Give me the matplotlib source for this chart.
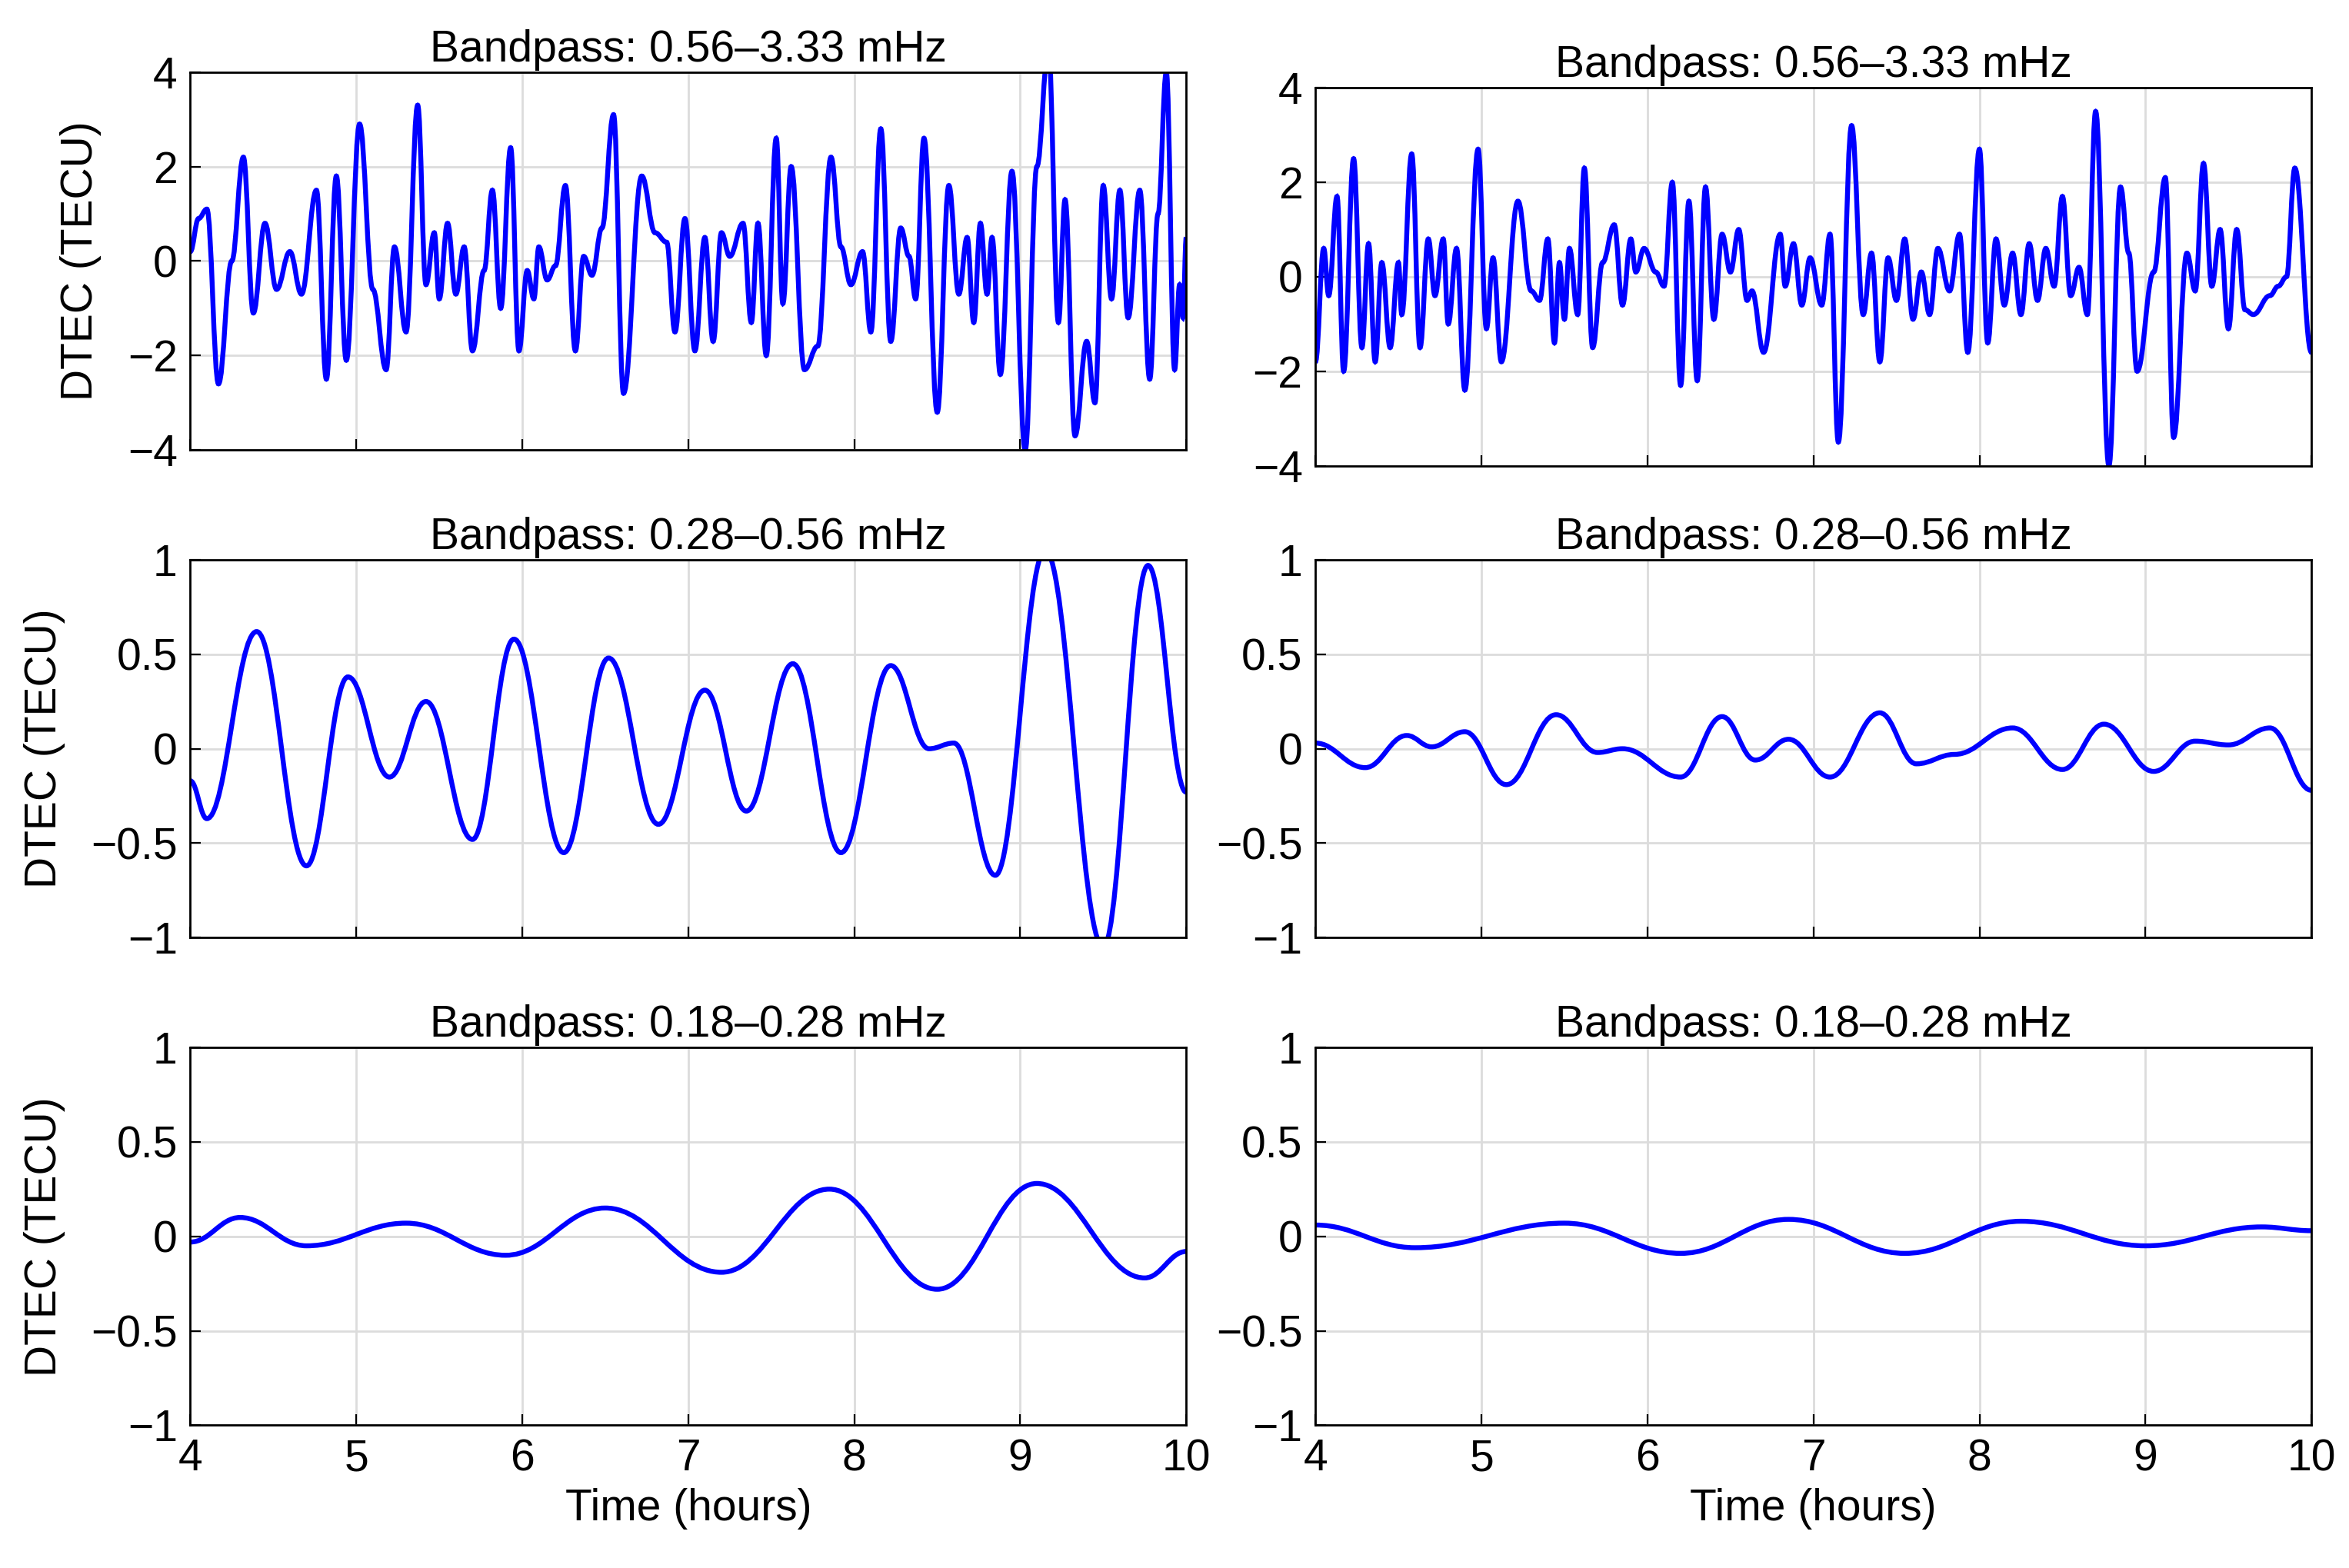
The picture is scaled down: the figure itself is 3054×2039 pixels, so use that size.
import matplotlib
matplotlib.use("Agg")
import matplotlib.pyplot as plt
from matplotlib.path import Path
from matplotlib.patches import PathPatch
import numpy as np

plt.rcParams.update({'font.family': 'Liberation Sans', 'font.size': 20.5})

# extrema (time in hours, DTEC in TECU)
tl_t = [4.0, 4.05, 4.1, 4.17, 4.25, 4.32, 4.38, 4.45, 4.52, 4.6, 4.67, 4.76, 4.82, 4.88, 4.94, 5.02, 5.1, 5.18,
        5.23, 5.3, 5.37, 5.42, 5.47, 5.5, 5.55, 5.6, 5.65, 5.7, 5.77, 5.82, 5.87, 5.93, 5.98, 6.03, 6.07, 6.1,
        6.15, 6.2, 6.26, 6.32, 6.37, 6.42, 6.48, 6.55, 6.61, 6.72, 6.8, 6.87, 6.92, 6.98, 7.04, 7.1, 7.15, 7.2,
        7.25, 7.33, 7.38, 7.42, 7.47, 7.53, 7.57, 7.62, 7.7, 7.78, 7.86, 7.92, 7.98, 8.05, 8.1, 8.16, 8.22, 8.28,
        8.33, 8.37, 8.42, 8.5, 8.57, 8.63, 8.68, 8.72, 8.76, 8.8, 8.83, 8.88, 8.95, 9.03, 9.1, 9.17, 9.23, 9.27,
        9.33, 9.4, 9.45, 9.5, 9.55, 9.6, 9.65, 9.72, 9.78, 9.83, 9.88, 9.93, 9.96, 9.98, 10.0]
tl_v = [0.2, 0.9, 1.1, -2.6, 0.0, 2.2, -1.1, 0.8, -0.6, 0.2, -0.7, 1.5, -2.5, 1.8, -2.1, 2.9, -0.6, -2.3,
        0.3, -1.5, 3.3, -0.5, 0.6, -0.8, 0.8, -0.7, 0.3, -1.9, -0.2, 1.5, -1.0, 2.4, -1.9, -0.2, -0.8, 0.3,
        -0.4, -0.1, 1.6, -1.9, 0.1, -0.3, 0.7, 3.1, -2.8, 1.8, 0.6, 0.4, -1.5, 0.9, -1.9, 0.5, -1.7, 0.6,
        0.1, 0.8, -1.3, 0.8, -2.0, 2.6, -0.9, 2.0, -2.3, -1.8, 2.2, 0.3, -0.5, 0.2, -1.5, 2.8, -1.7, 0.7,
        0.1, -0.8, 2.6, -3.2, 1.6, -0.7, 0.5, -1.3, 0.8, -0.7, 0.5, -2.4, 1.9, -4.0, 2.0, 4.5, -1.3, 1.3,
        -3.7, -1.7, -3.0, 1.6, -0.8, 1.5, -1.2, 1.5, -2.5, 1.0, 4.0, -2.3, -0.5, -1.2, 0.5]

tr_t = [4.0, 4.05, 4.08, 4.13, 4.17, 4.23, 4.28, 4.32, 4.36, 4.4, 4.45, 4.5, 4.52, 4.58, 4.63, 4.68, 4.72, 4.77,
        4.8, 4.85, 4.9, 4.98, 5.03, 5.07, 5.12, 5.22, 5.3, 5.35, 5.4, 5.44, 5.47, 5.5, 5.53, 5.58, 5.62, 5.67,
        5.73, 5.8, 5.85, 5.9, 5.93, 5.98, 6.05, 6.1, 6.15, 6.2, 6.25, 6.3, 6.35, 6.4, 6.45, 6.5, 6.55, 6.6,
        6.63, 6.7, 6.8, 6.83, 6.88, 6.93, 6.98, 7.05, 7.1, 7.15, 7.23, 7.3, 7.35, 7.4, 7.45, 7.5, 7.55, 7.6,
        7.65, 7.7, 7.75, 7.82, 7.88, 7.93, 8.0, 8.05, 8.1, 8.15, 8.2, 8.25, 8.3, 8.35, 8.4, 8.45, 8.5, 8.55,
        8.6, 8.65, 8.7, 8.78, 8.85, 8.9, 8.95, 9.05, 9.12, 9.17, 9.25, 9.3, 9.35, 9.4, 9.45, 9.5, 9.55, 9.6,
        9.65, 9.75, 9.8, 9.85, 9.9, 10.0]
tr_v = [-1.8, 0.6, -0.4, 1.7, -2.0, 2.5, -1.5, 0.7, -1.8, 0.3, -1.5, 0.3, -0.8, 2.6, -1.5, 0.8, -0.4, 0.8,
        -1.0, 0.6, -2.4, 2.7, -1.1, 0.4, -1.8, 1.6, -0.3, -0.5, 0.8, -1.4, 0.3, -0.9, 0.6, -0.8, 2.3, -1.5,
        0.3, 1.1, -0.6, 0.8, 0.1, 0.6, 0.1, -0.2, 2.0, -2.3, 1.6, -2.2, 1.9, -0.9, 0.9, 0.1, 1.0, -0.5,
        -0.3, -1.6, 0.9, -0.2, 0.7, -0.6, 0.4, -0.6, 0.9, -3.5, 3.2, -0.8, 0.5, -1.8, 0.4, -0.5, 0.8, -0.9,
        0.1, -0.8, 0.6, -0.3, 0.9, -1.6, 2.7, -1.4, 0.8, -0.6, 0.5, -0.8, 0.7, -0.5, 0.6, -0.2, 1.7, -0.4,
        0.2, -0.8, 3.5, -4.0, 1.9, 0.5, -2.0, 0.1, 2.1, -3.4, 0.5, -0.3, 2.4, -0.2, 1.0, -1.1, 1.0, -0.7,
        -0.8, -0.4, -0.2, 0.0, 2.3, -1.6]

ml_t = [4.0, 4.1, 4.4, 4.7, 4.95, 5.2, 5.42, 5.7, 5.95, 6.25, 6.52, 6.82, 7.1, 7.35, 7.63, 7.92, 8.22, 8.45,
        8.6, 8.85, 9.15, 9.5, 9.77, 10.0]
ml_v = [-0.17, -0.37, 0.62, -0.62, 0.38, -0.15, 0.25, -0.48, 0.58, -0.55, 0.48, -0.4, 0.31, -0.33, 0.45, -0.55,
        0.44, -0.0, 0.03, -0.67, 1.05, -1.05, 0.97, -0.23]

mr_t = [4.0, 4.3, 4.55, 4.7, 4.9, 5.15, 5.45, 5.7, 5.85, 6.2, 6.45, 6.65, 6.85, 7.1, 7.4, 7.62, 7.85, 8.2,
        8.5, 8.75, 9.05, 9.3, 9.5, 9.75, 10.0]
mr_v = [0.03, -0.1, 0.07, 0.01, 0.09, -0.19, 0.18, -0.02, 0.0, -0.15, 0.17, -0.06, 0.05, -0.15, 0.19, -0.08,
        -0.03, 0.11, -0.11, 0.13, -0.12, 0.04, 0.02, 0.11, -0.22]

bl_t = [4.0, 4.3, 4.7, 5.3, 5.9, 6.5, 7.2, 7.85, 8.5, 9.1, 9.75, 10.0]
bl_v = [-0.03, 0.1, -0.05, 0.07, -0.1, 0.15, -0.19, 0.25, -0.28, 0.28, -0.22, -0.08]

br_t = [4.0, 4.6, 5.5, 6.2, 6.85, 7.55, 8.25, 9.0, 9.7, 10.0]
br_v = [0.06, -0.06, 0.07, -0.09, 0.09, -0.09, 0.08, -0.05, 0.05, 0.03]

titles = ['Bandpass: 0.56\u20133.33 mHz', 'Bandpass: 0.28\u20130.56 mHz', 'Bandpass: 0.18\u20130.28 mHz']


def smooth_path(t, v):
    # bezier through extrema with flat tangents
    verts = [(t[0], v[0])]
    codes = [Path.MOVETO]
    for i in range(len(t) - 1):
        dx = (t[i + 1] - t[i]) / 2.5
        verts += [(t[i] + dx, v[i]), (t[i + 1] - dx, v[i + 1]), (t[i + 1], v[i + 1])]
        codes += [Path.CURVE4] * 3
    return Path(verts, codes)


fig = plt.figure(figsize=(15.27, 10.195), dpi=200)
boxes = [[(0.081, 0.713), (0.56, 0.703)],
         [(0.081, 0.402), (0.56, 0.402)],
         [(0.081, 0.091), (0.56, 0.091)]]
series = [[(tl_t, tl_v), (tr_t, tr_v)], [(ml_t, ml_v), (mr_t, mr_v)], [(bl_t, bl_v), (br_t, br_v)]]

for r in range(3):
    for c in range(2):
        x0, y0 = boxes[r][c]
        ax = fig.add_axes([x0, y0, 0.424, 0.241])
        t, v = series[r][c]
        ax.add_patch(PathPatch(smooth_path(t, v), fill=False, edgecolor='#0000ff', lw=2.3))
        ax.set_xlim(4, 10)
        if r == 0:
            ax.set_ylim(-4, 4)
            ax.set_yticks([-4, -2, 0, 2, 4])
            ax.set_yticklabels(['\u22124', '\u22122', '0', '2', '4'])
        else:
            ax.set_ylim(-1, 1)
            ax.set_yticks([-1, -0.5, 0, 0.5, 1])
            ax.set_yticklabels(['\u22121', '\u22120.5', '0', '0.5', '1'])
        ax.set_xticks(range(4, 11))
        ax.grid(True, color='#dcdcdc', lw=1.0)
        ax.set_axisbelow(True)
        ax.tick_params(direction='in', length=5, labelsize=20.5, pad=6)
        for s in ax.spines.values():
            s.set_linewidth(1.0)
        ax.set_title(titles[r], fontsize=20.5, pad=5)
        if c == 0:
            ax.set_ylabel('DTEC (TECU)', fontsize=20.5, labelpad=12)
        if r == 2:
            ax.set_xlabel('Time (hours)', fontsize=20.5)
        else:
            ax.set_xticklabels([])

fig.savefig('out.png', dpi=200)
